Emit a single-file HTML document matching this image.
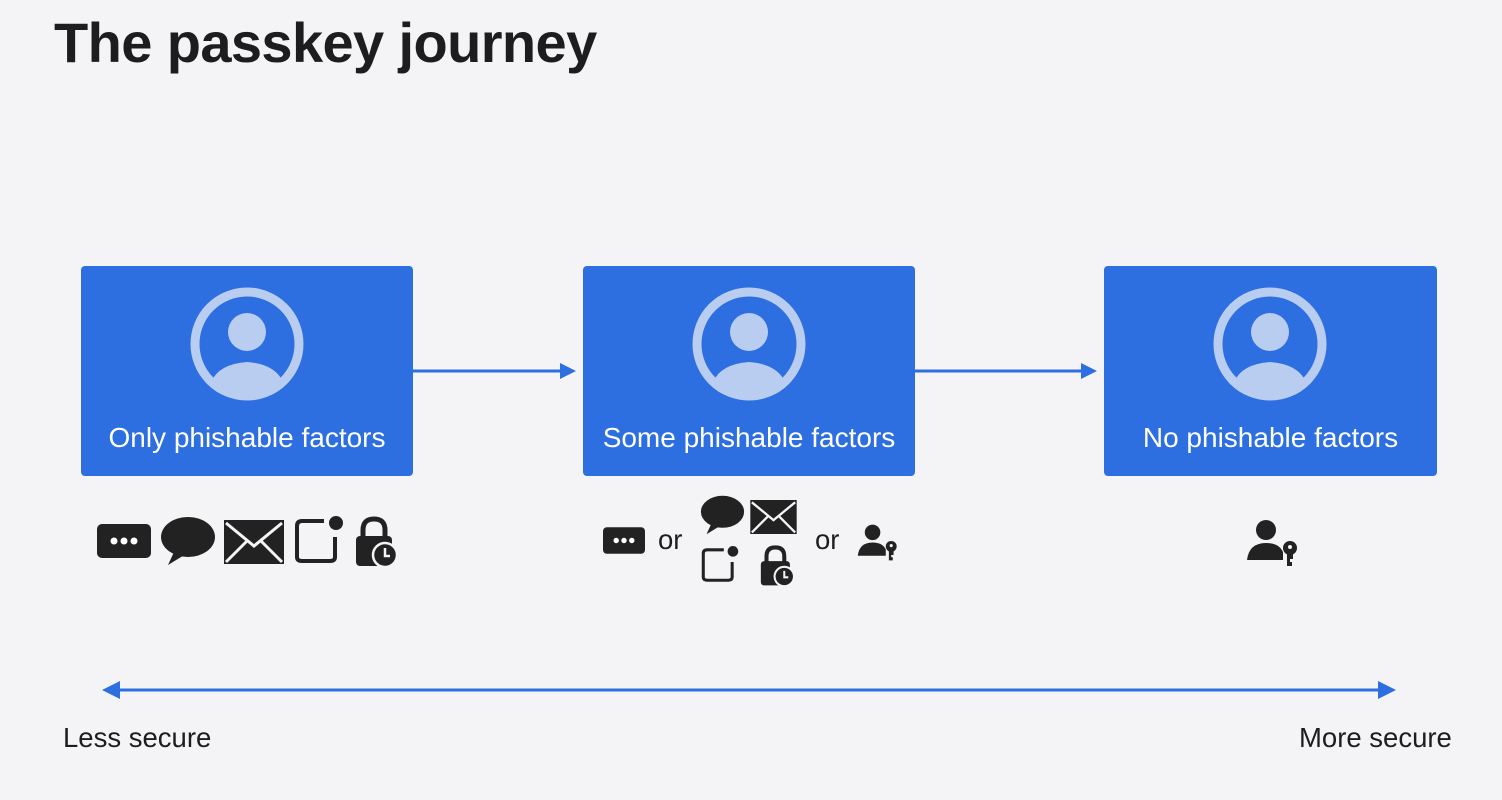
<!DOCTYPE html>
<html><head><meta charset="utf-8"><style>
body{margin:0;width:1502px;height:800px;background:#f4f4f6;overflow:hidden;font-family:"Liberation Sans",sans-serif;position:relative}
.t{position:absolute;left:54px;top:10px;font-size:56px;font-weight:bold;color:#1d1d1f;letter-spacing:-0.6px}
.box{position:absolute;top:266px;width:332px;height:210px;background:#2d6ee0;border-radius:4px}
.box .lbl{position:absolute;top:156px;width:100%;text-align:center;color:#fff;font-size:28px}
.box svg{position:absolute;left:108px;top:20px}
.s{position:absolute;font-size:27.5px;color:#1d1d1f}
svg.a{position:absolute;left:0;top:0}
</style></head><body>
<div class="t">The passkey journey</div>
<svg width="0" height="0" style="position:absolute"><defs>
<symbol id="u" viewBox="0 0 116 116"><circle cx="58" cy="58" r="52" fill="none" stroke="#b9cdf1" stroke-width="9"/><circle cx="58" cy="46" r="19" fill="#b9cdf1"/><path d="M22 96 Q30 78 58 76 Q86 78 94 96 Q78 108 58 108 Q38 108 22 96Z" fill="#b9cdf1"/></symbol>
<symbol id="dots" viewBox="0 0 54 34"><rect width="54" height="34" rx="5" fill="#222"/><circle cx="17" cy="17" r="3.5" fill="#fff"/><circle cx="27" cy="17" r="3.5" fill="#fff"/><circle cx="37" cy="17" r="3.5" fill="#fff"/></symbol>
<symbol id="bub" viewBox="0 0 56 50"><ellipse cx="28" cy="21" rx="27" ry="20" fill="#222"/><path d="M14 36 L8 49 L26 38Z" fill="#222"/></symbol>
<symbol id="env" viewBox="0 0 60 44"><rect width="60" height="44" fill="#222"/><path d="M2 3 L30 26 L58 3 M2 42 L23 21 M58 42 L37 21" stroke="#f4f4f6" stroke-width="3" fill="none"/></symbol>
<symbol id="not" viewBox="0 0 50 48"><path d="M30 6 H8 Q3 6 3 11 V42 Q3 46 8 46 H36 Q41 46 41 42 V22" fill="none" stroke="#222" stroke-width="4"/><circle cx="42" cy="8" r="7" fill="#222"/></symbol>
<symbol id="lock" viewBox="0 0 44 52"><path d="M9 22 V14 Q9 3 20 3 Q31 3 31 14 V22" fill="none" stroke="#222" stroke-width="5"/><rect x="2" y="20" width="36" height="30" rx="4" fill="#222"/><circle cx="31" cy="39" r="12" fill="#222" stroke="#f4f4f6" stroke-width="2.5"/><path d="M31 32 V40 H36" stroke="#f4f4f6" stroke-width="2.5" fill="none"/></symbol>
<symbol id="pk" viewBox="0 0 54 50"><circle cx="20" cy="12" r="10" fill="#222"/><path d="M1 42 Q3 25 20 25 Q33 25 37 34 V42Z" fill="#222"/><circle cx="44" cy="30" r="7" fill="#222"/><circle cx="44" cy="29" r="2" fill="#f4f4f6"/><path d="M41 35 V48 H46 V44 H44 V41 H47 V35Z" fill="#222"/></symbol>
</defs></svg>
<div class="box" style="left:81px"><svg width="116" height="116"><use href="#u"/></svg><div class="lbl">Only phishable factors</div></div>
<div class="box" style="left:583px"><svg width="116" height="116"><use href="#u"/></svg><div class="lbl">Some phishable factors</div></div>
<div class="box" style="left:1104px;width:333px"><svg width="116" height="116"><use href="#u"/></svg><div class="lbl">No phishable factors</div></div>
<svg class="a" width="1502" height="800">
<g stroke="#2d6ee0" stroke-width="3" fill="#2d6ee0">
<line x1="413" y1="371" x2="565" y2="371"/><path d="M576 371 L560 363 L560 379Z" stroke="none"/>
<line x1="915" y1="371" x2="1085" y2="371"/><path d="M1097 371 L1081 363 L1081 379Z" stroke="none"/>
<line x1="115" y1="690" x2="1384" y2="690"/><path d="M102 690 L120 681 L120 699Z" stroke="none"/><path d="M1396 690 L1378 681 L1378 699Z" stroke="none"/>
</g>
<use href="#dots" x="97" y="524" width="54" height="34"/>
<use href="#bub" x="160" y="516" width="56" height="50"/>
<use href="#env" x="224" y="520" width="60" height="44"/>
<use href="#not" x="294" y="515" width="50" height="48"/>
<use href="#lock" x="354" y="516" width="44" height="52"/>
<use href="#dots" x="603" y="527" width="42" height="27"/>
<use href="#bub" x="700" y="495" width="45" height="40"/>
<use href="#env" x="750" y="500" width="47" height="34"/>
<use href="#not" x="701" y="545" width="38" height="37"/>
<use href="#lock" x="759" y="545" width="36" height="42"/>
<use href="#pk" x="857" y="523" width="42" height="39"/>
<use href="#pk" x="1246" y="518" width="54" height="50"/>
</svg>
<div class="s" style="left:658px;top:524px">or</div>
<div class="s" style="left:815px;top:524px">or</div>
<div class="s" style="left:63px;top:722px">Less secure</div>
<div class="s" style="left:1299px;top:722px">More secure</div>
</body></html>
